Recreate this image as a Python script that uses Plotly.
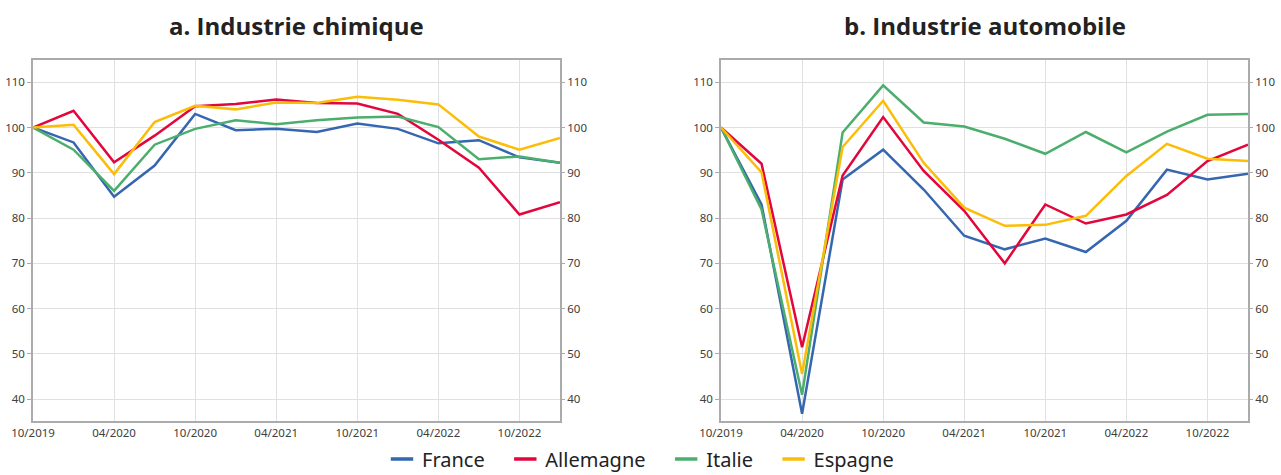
import plotly.graph_objects as go

quarters = ["10/2019", "01/2020", "04/2020", "07/2020", "10/2020", "01/2021", "04/2021",
            "07/2021", "10/2021", "01/2022", "04/2022", "07/2022", "10/2022", "01/2023"]
tick_labels = ["10/2019", "04/2020", "10/2020", "04/2021", "10/2021", "04/2022", "10/2022"]
y_ticks = [40, 50, 60, 70, 80, 90, 100, 110]

series_names = ["France", "Allemagne", "Italie", "Espagne"]
colors = ["#3566b0", "#e2063c", "#4cae6c", "#fbbd08"]

# a. Industrie chimique
chim_france = [100, 96.7, 84.7, 91.6, 103.0, 99.4, 99.7, 99.0, 100.9, 99.7, 96.5, 97.2, 93.4, 92.2]
chim_allemagne = [100, 103.7, 92.3, 98.2, 104.7, 105.2, 106.2, 105.4, 105.3, 103.0, 97.3, 91.1, 80.8, 83.5]
chim_italie = [100, 95.1, 86.0, 96.2, 99.7, 101.6, 100.7, 101.6, 102.2, 102.4, 100.1, 93.0, 93.6, 92.2]
chim_espagne = [100, 100.6, 89.7, 101.2, 104.8, 104.0, 105.5, 105.4, 106.8, 106.1, 105.1, 98.0, 95.1, 97.7]

# b. Industrie automobile
auto_france = [100, 83.0, 36.8, 88.5, 95.1, 86.3, 76.1, 73.1, 75.5, 72.5, 79.4, 90.7, 88.5, 89.8]
auto_allemagne = [100, 92.0, 51.5, 89.4, 102.3, 90.4, 81.6, 70.0, 83.0, 78.8, 80.8, 85.1, 92.6, 96.2]
auto_italie = [100, 81.9, 41.0, 98.9, 109.3, 101.1, 100.2, 97.5, 94.2, 99.0, 94.5, 99.1, 102.8, 103.0]
auto_espagne = [100, 90.1, 45.6, 95.7, 105.9, 92.2, 82.3, 78.3, 78.5, 80.5, 89.3, 96.4, 93.1, 92.6]

titles = ["a. Industrie chimique", "b. Industrie automobile"]

chim = [chim_france, chim_allemagne, chim_italie, chim_espagne]
auto = [auto_france, auto_allemagne, auto_italie, auto_espagne]

FONT = "Noto Sans"
W, H = 1281, 475
ML, MR, MT, MB = 33, W - 1248, 60, H - 421
PW, PH = W - ML - MR, H - MT - MB

fig = go.Figure()

for data, xa, ya, ya2 in [(chim, "x", "y", "y3"), (auto, "x2", "y2", "y4")]:
    for name, col, vals in zip(series_names, colors, data):
        fig.add_trace(go.Scatter(x=quarters, y=vals, mode="lines", name=name,
                                 line=dict(color=col, width=2.5), showlegend=False,
                                 xaxis=xa, yaxis=ya))
    # invisible carrier so the mirrored right axis is drawn
    fig.add_trace(go.Scatter(x=quarters, y=data[0], mode="lines", line=dict(width=0),
                             opacity=0, showlegend=False, hoverinfo="skip",
                             xaxis=xa, yaxis=ya2))

pad = "\u00a0" * 3
for i, (name, col) in enumerate(zip(series_names, colors)):
    label = name + (pad if i < len(series_names) - 1 else "")
    fig.add_trace(go.Scatter(x=[None], y=[None], mode="markers", name=label,
                             marker=dict(symbol="line-ew-open", size=16, color=col,
                                         line=dict(color=col, width=3.5)),
                             xaxis="x", yaxis="y"))

def px_x(px):
    return (px - ML) / PW

def px_y(py):
    return (H - MB - py) / PH

dom_x = [[px_x(33), px_x(560)], [px_x(721), px_x(1248)]]
dom_y = [0, 1]
yr = [35.2, 114.9]
axcol = "#ababab"
gridcol = "#e0e0e0"
tickfont = dict(family=FONT, size=11.5, color="#404040")

xcommon = dict(type="category", categoryorder="array", categoryarray=quarters,
               range=[0, len(quarters) - 1], tickvals=tick_labels, ticktext=tick_labels,
               showgrid=True, gridcolor=gridcol, gridwidth=1, showline=True, linecolor=axcol,
               linewidth=1.5, mirror=True, ticks="", tickfont=tickfont, zeroline=False,
               automargin=False)
ycommon = dict(range=yr, tickvals=y_ticks, showgrid=True, gridcolor=gridcol, gridwidth=1,
               showline=True, linecolor=axcol, linewidth=1.5, mirror=True, ticks="outside",
               ticklen=4, tickcolor=axcol, tickfont=tickfont, zeroline=False, automargin=False)
y2common = dict(range=yr, tickvals=y_ticks, showgrid=False, showline=False, ticks="outside",
                ticklen=4, tickcolor=axcol, tickfont=tickfont, zeroline=False, side="right",
                automargin=False)

fig.update_layout(
    width=W, height=H,
    margin=dict(l=ML, r=MR, t=MT, b=MB),
    paper_bgcolor="white", plot_bgcolor="white",
    font=dict(family=FONT, color="#222"),
    xaxis=dict(domain=dom_x[0], anchor="y", **xcommon),
    xaxis2=dict(domain=dom_x[1], anchor="y2", **xcommon),
    yaxis=dict(domain=dom_y, anchor="x", **ycommon),
    yaxis2=dict(domain=dom_y, anchor="x2", **ycommon),
    yaxis3=dict(overlaying="y", anchor="x", **y2common),
    yaxis4=dict(overlaying="y2", anchor="x2", **y2common),
    legend=dict(orientation="h", x=0.5, xanchor="center",
                yref="container", y=1 - 459 / H, yanchor="middle",
                font=dict(family=FONT, size=20, color="#222"), itemclick=False,
                bgcolor="rgba(0,0,0,0)"),
    showlegend=True,
)

for i, t in enumerate(titles):
    fig.add_annotation(text="<b>" + t + "</b>", xref="paper", yref="paper",
                       x=(dom_x[i][0] + dom_x[i][1]) / 2, y=px_y(25),
                       xanchor="center", yanchor="middle", showarrow=False,
                       font=dict(family="Open Sans", size=24, color="#222"))

fig.write_html("out.html", config={"displayModeBar": False},
               post_script="document.body.style.margin='0px';document.body.style.overflow='hidden';")
